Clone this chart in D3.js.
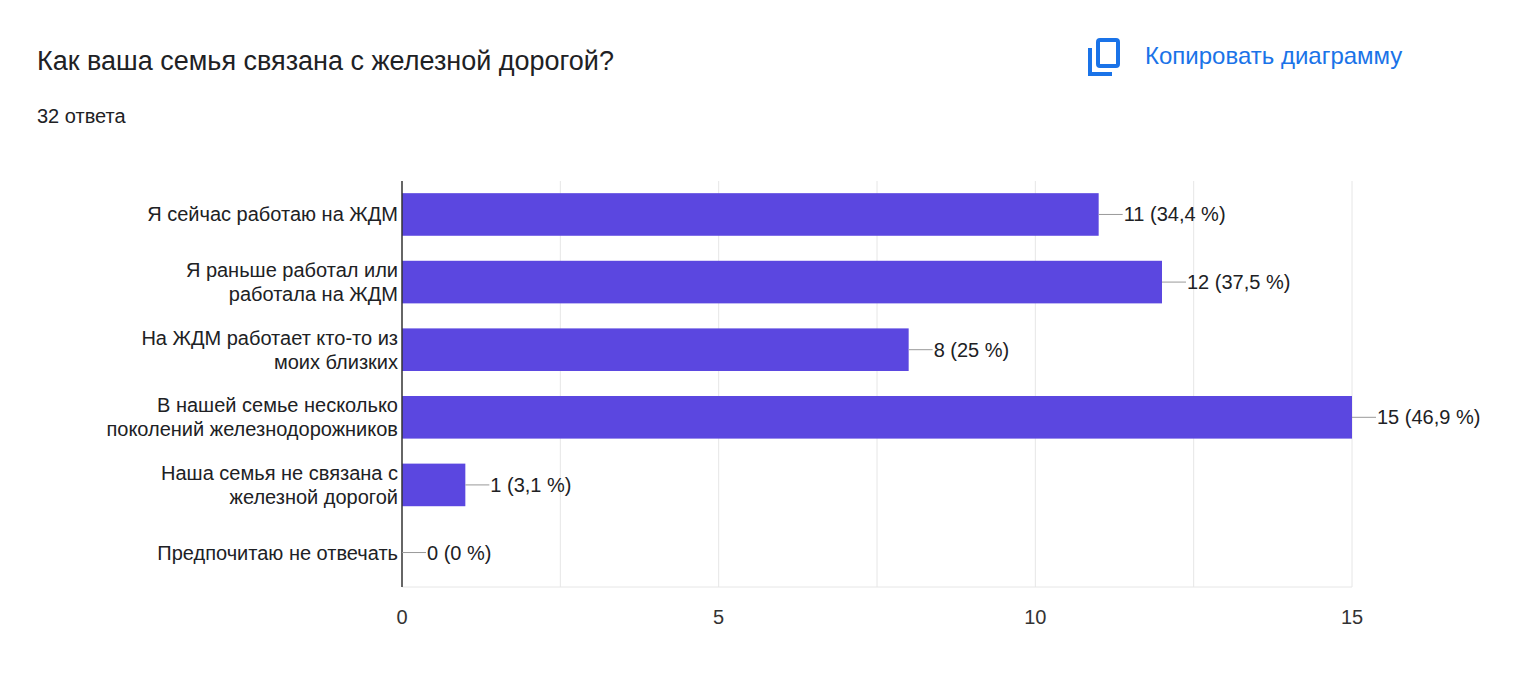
<!DOCTYPE html>
<html><head><meta charset="utf-8">
<script src="https://cdn.jsdelivr.net/npm/d3@7"></script>
<style>body{margin:0;background:#fff;font-family:"Liberation Sans",Arial,sans-serif}</style>
</head><body>
<script>
var width = 1520, height = 688;

var categories = [
  ["Я сейчас работаю на ЖДМ"],
  ["Я раньше работал или", "работала на ЖДМ"],
  ["На ЖДМ работает кто-то из", "моих близких"],
  ["В нашей семье несколько", "поколений железнодорожников"],
  ["Наша семья не связана с", "железной дорогой"],
  ["Предпочитаю не отвечать"]
];
var values = [11, 12, 8, 15, 1, 0];
var labels = ["11 (34,4 %)", "12 (37,5 %)", "8 (25 %)", "15 (46,9 %)", "1 (3,1 %)", "0 (0 %)"];
var ticks = [0, 5, 10, 15];
var gridTicks = [2.5, 5, 7.5, 10, 12.5, 15];

var svg = d3.select("body").append("svg").attr("width", width).attr("height", height);

svg.append("text").attr("x", 37).attr("y", 70).attr("font-size", 27).attr("fill", "#202124")
  .text("Как ваша семья связана с железной дорогой?");
svg.append("text").attr("x", 37).attr("y", 123).attr("font-size", 20).attr("fill", "#202124")
  .text("32 ответа");

// copy icon
var ic = svg.append("g").attr("fill", "none").attr("stroke", "#1a73e8").attr("stroke-width", 4);
ic.append("path").attr("d", "M1090 48 V74 H1112");
ic.append("rect").attr("x", 1098).attr("y", 40).attr("width", 20).attr("height", 26).attr("rx", 2);
svg.append("text").attr("x", 1145).attr("y", 64).attr("font-size", 24).attr("fill", "#1a73e8")
  .text("Копировать диаграмму");

var x = d3.scaleLinear().domain([0, 15]).range([402, 1352]);
var y = d3.scaleBand().domain(d3.range(values.length)).range([181, 586]).paddingInner(0.37).paddingOuter(0.18);

svg.selectAll(".grid").data(gridTicks).enter().append("line")
  .attr("x1", d => x(d)).attr("x2", d => x(d)).attr("y1", 181).attr("y2", 587)
  .attr("stroke", "#e6e6e6").attr("stroke-width", 1);
svg.append("line").attr("x1", 402).attr("x2", 1352).attr("y1", 587).attr("y2", 587).attr("stroke", "#e6e6e6");

svg.selectAll(".bar").data(values).enter().append("rect")
  .attr("x", x(0)).attr("y", (d, i) => y(i)).attr("width", d => x(d) - x(0)).attr("height", y.bandwidth())
  .attr("fill", "#5b47e0");

svg.append("line").attr("x1", 402).attr("x2", 402).attr("y1", 181).attr("y2", 587).attr("stroke", "#333").attr("stroke-width", 1.5);

// leader lines + value labels
values.forEach(function(v, i) {
  var cy = y(i) + y.bandwidth() / 2;
  var x0 = x(v);
  svg.append("line").attr("x1", x0).attr("x2", x0 + 24).attr("y1", cy).attr("y2", cy).attr("stroke", "#999");
  svg.append("text").attr("x", x0 + 25).attr("y", cy + 7).attr("font-size", 20).attr("fill", "#202124").text(labels[i]);
});

// category labels
categories.forEach(function(lines, i) {
  var cy = y(i) + y.bandwidth() / 2;
  var t = svg.append("text").attr("text-anchor", "end").attr("font-size", 20).attr("fill", "#202124");
  var start = cy + 7 - (lines.length - 1) * 12;
  lines.forEach(function(l, j) {
    t.append("tspan").attr("x", 398).attr("y", start + j * 24).text(l);
  });
});

svg.selectAll(".tick").data(ticks).enter().append("text")
  .attr("x", d => x(d)).attr("y", 624).attr("text-anchor", "middle").attr("font-size", 20).attr("fill", "#333")
  .text(d => d);
</script>
</body></html>
